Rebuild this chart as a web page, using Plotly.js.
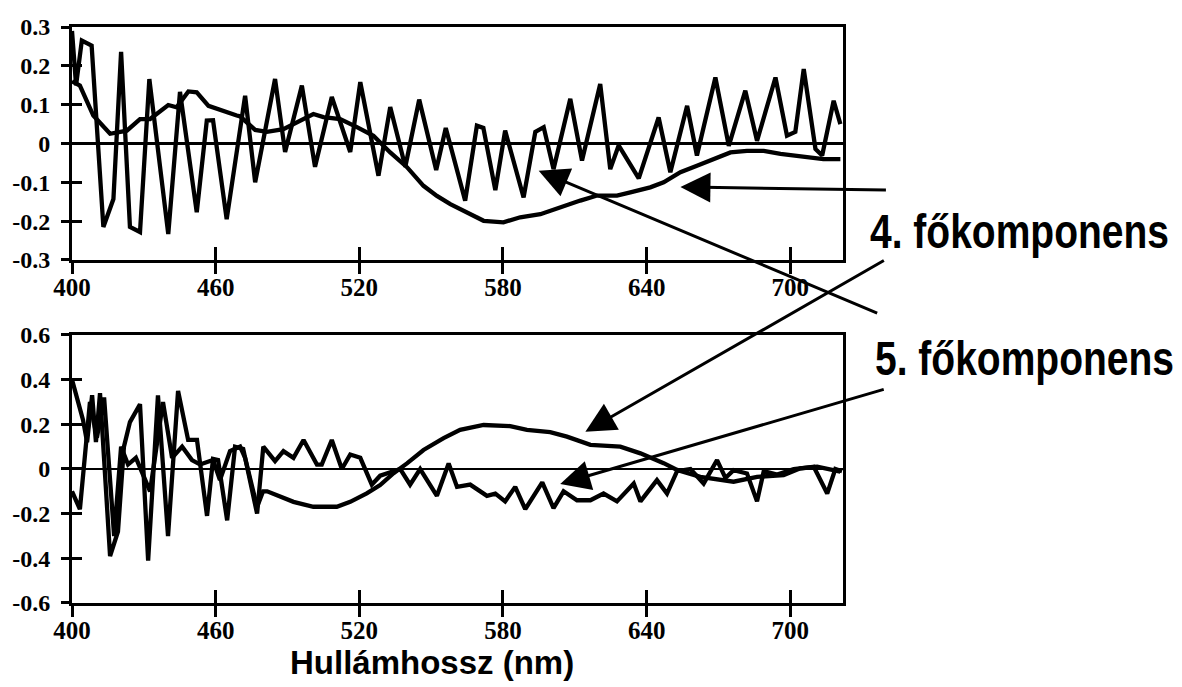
<!DOCTYPE html>
<html>
<head>
<meta charset="utf-8">
<script src="https://cdn.plot.ly/plotly-3.0.1.min.js"></script>
<style>html,body{margin:0;padding:0;background:#fff;}#chart{width:1182px;height:687px;}</style>
</head>
<body>
<div id="chart"></div>
<script>
// ---- Data (wavelength in nm, loading values) ----
// Upper panel, 4th principal component (smooth curve)
var topPC4X = [400,403.3,408.9,415.9,422.9,428.4,432.6,440.2,443.7,448.6,452.1,457.0,468.8,470.2,476.5,481.4,488.3,495.3,500.8,505.0,512.0,519.0,525.9,532.9,539.9,546.8,552.4,558.0,562.1,571.9,580.2,587.2,595.6,603.9,612.3,619.3,627.6,633.2,641.5,647.1,654.1,661.0,668.0,675.0,681.9,688.9,695.9,702.8,709.8,713.8,720.9];
var topPC4Y = [0.16,0.149,0.072,0.025,0.033,0.063,0.063,0.099,0.093,0.134,0.132,0.097,0.072,0.07,0.035,0.03,0.037,0.06,0.076,0.068,0.063,0.042,0.02,-0.023,-0.061,-0.109,-0.135,-0.156,-0.169,-0.199,-0.203,-0.19,-0.182,-0.164,-0.147,-0.134,-0.134,-0.126,-0.113,-0.1,-0.074,-0.057,-0.04,-0.023,-0.019,-0.019,-0.027,-0.031,-0.036,-0.04,-0.04];

// Upper panel, 5th principal component (noisy curve)
var topPC5X = [400,401.7,404.1,408.2,413.1,417.3,420.5,424.2,428.4,432.3,440.2,445.1,452.1,456.3,458.9,464.6,472.3,476.5,484.8,489.0,496.0,501.5,508.5,516.2,520.4,528.0,532.9,539.2,545.0,552.1,556.1,564.2,569.1,571.8,576.8,580.9,588.6,593.5,597.0,601.1,608.1,613.0,620.6,624.8,628.3,636.7,645.0,649.9,656.9,661.0,668.7,674.3,681.2,686.1,693.8,698.6,702.1,705.6,710.5,713.3,718.1,720.9];
var topPC5Y = [0.29,0.15,0.265,0.252,-0.215,-0.143,0.236,-0.215,-0.228,0.166,-0.233,0.133,-0.177,0.059,0.06,-0.195,0.123,-0.1,0.166,-0.022,0.149,-0.06,0.12,-0.022,0.158,-0.083,0.094,-0.06,0.113,-0.068,0.04,-0.147,0.046,0.04,-0.12,0.033,-0.139,0.03,0.042,-0.066,0.115,-0.044,0.153,-0.066,-0.005,-0.09,0.067,-0.074,0.097,-0.031,0.17,-0.006,0.136,0.007,0.17,0.02,0.03,0.192,-0.014,-0.031,0.11,0.05];

// Lower panel, 4th principal component
var botPC4X = [400,403.3,407.5,410.4,413.4,417.6,420.5,423.4,426.7,432.6,438.0,441.8,446.0,450.1,453.5,458.9,461.8,466.0,470.2,472.3,477.3,479.8,481.5,485.5,492.5,500.8,510.6,516.2,523.1,528.7,534.3,539.9,546.8,555.2,562.1,571.9,583.0,590.0,599.7,606.7,616.5,629.0,637.4,647.1,652.7,662.4,676.3,686.1,697.2,704.2,711.2,720.9];
var botPC4Y = [-0.10,-0.18,0.30,0.14,0.32,-0.30,0.10,0.02,0.05,-0.10,0.30,0.05,0.10,0.04,0.02,0.04,-0.05,0.08,0.10,0.05,-0.17,-0.10,-0.10,-0.117,-0.147,-0.169,-0.169,-0.147,-0.109,-0.072,-0.019,0.025,0.085,0.138,0.175,0.197,0.192,0.175,0.165,0.145,0.108,0.10,0.07,0.026,-0.004,-0.035,-0.057,-0.035,-0.027,0.003,0.01,-0.012];

// Lower panel, 5th principal component
var botPC5X = [400,404.6,406.3,408.4,410.0,411.7,415.9,419.2,421.7,424.2,428.4,431.8,435.9,440.1,444.3,448.5,452.2,456.4,458.9,461.0,464.8,468.1,471.5,477.3,479.9,484.8,488.3,492.5,496.7,502.3,504.3,508.5,512.7,516.2,520.4,525.2,528.7,532.9,537.1,541.2,545.4,552.4,557.3,560.8,566.3,573.3,576.8,580.9,585.1,589.3,596.4,601.1,605.3,610.9,616.5,622.0,627.6,634.6,637.4,644.3,648.5,652.7,658.3,663.8,669.4,672.9,676.3,681.9,686.1,688.9,694.5,701.4,709.8,715.4,718.8,721.6];
var botPC5Y = [0.40,0.22,0.12,0.33,0.12,0.34,-0.39,-0.28,0.10,0.21,0.29,-0.41,0.33,-0.30,0.35,0.13,0.13,-0.21,0.045,0.04,-0.23,0.10,0.09,-0.20,0.10,0.035,0.08,0.05,0.13,0.02,0.02,0.13,0.0,0.065,0.05,-0.07,-0.03,-0.015,0.0,-0.07,0.0,-0.12,0.025,-0.08,-0.07,-0.12,-0.11,-0.145,-0.08,-0.18,-0.06,-0.175,-0.10,-0.14,-0.14,-0.11,-0.145,-0.065,-0.145,-0.05,-0.11,-0.01,0.0,-0.065,0.04,-0.04,-0.005,-0.02,-0.145,-0.01,-0.025,0.0,0.01,-0.11,0.0,-0.01];

// Axis ticks and labels
var xTickVals = [400,460,520,580,640,700];
var xTickText = ['400','460','520','580','640','700'];
var topYTickVals = [-0.3,-0.2,-0.1,0,0.1,0.2,0.3];
var topYTickText = ['-0.3','-0.2','-0.1','0','0.1','0.2','0.3'];
var botYTickVals = [-0.6,-0.4,-0.2,0,0.2,0.4,0.6];
var botYTickText = ['-0.6','-0.4','-0.2','0','0.2','0.4','0.6'];

var xTitle = 'Hullámhossz (nm)';
var label4 = '4. főkomponens';
var label5 = '5. főkomponens';

// Arrow targets (data coordinates on each panel)
var arrowTargets = [
  {panel:'top', x:654.1, y:-0.112, ax:207, ay:3},   // 4th PC, upper panel
  {panel:'top', x:594.9, y:-0.070, ax:340, ay:143}, // 5th PC, upper panel
  {panel:'bot', x:614.4, y:0.167, ax:300, ay:-172}, // 4th PC, lower panel
  {panel:'bot', x:603.9, y:-0.067, ax:325, ay:-95}  // 5th PC, lower panel
];

// ---- Build the figure ----
var lineStyle = {color:'#000', width:4.3};
function tr(x, y, xa, ya) {
  return {x:x, y:y, xaxis:xa, yaxis:ya, mode:'lines', type:'scatter', line:lineStyle, hoverinfo:'skip', showlegend:false};
}
var data = [
  tr(topPC4X, topPC4Y, 'x', 'y'),
  tr(topPC5X, topPC5Y, 'x', 'y'),
  tr(botPC4X, botPC4Y, 'x2', 'y2'),
  tr(botPC5X, botPC5Y, 'x2', 'y2'),
  {x:[], y:[], xaxis:'x3', yaxis:'y3', type:'scatter', showlegend:false},
  {x:[], y:[], xaxis:'x4', yaxis:'y4', type:'scatter', showlegend:false}
];

var tickFontX = {family:'Liberation Serif, Times New Roman, serif', size:25, color:'#000', weight:'bold'};
var tickFontY = {family:'Liberation Serif, Times New Roman, serif', size:24, color:'#000', weight:'bold'};
var xRange = [400, 722];

// main axes: inside half of crossing ticks + labels
function mainX(anchor) {
  return {anchor:anchor, range:xRange, tickmode:'array', tickvals:xTickVals, ticktext:xTickText,
    ticks:'inside', ticklen:13, tickwidth:3, tickcolor:'#000', tickfont:tickFontX, ticklabelstandoff:3,
    showline:true, mirror:true, linewidth:3, linecolor:'#000', showgrid:false, zeroline:false, automargin:false};
}
function mainY(domain, range, tv, tt) {
  return {domain:domain, range:range, tickmode:'array', tickvals:tv, ticktext:tt,
    ticks:'inside', ticklen:10, tickwidth:3, tickcolor:'#000', tickfont:tickFontY, ticklabelstandoff:14,
    showline:true, mirror:true, linewidth:3, linecolor:'#000', showgrid:false,
    zeroline:true, zerolinewidth:2.5, zerolinecolor:'#000', automargin:false};
}
// overlay axes: outside half of crossing ticks
function outerX(over, anchor) {
  return {overlaying:over, anchor:anchor, range:xRange, tickmode:'array', tickvals:xTickVals,
    ticks:'outside', ticklen:13, tickwidth:3, tickcolor:'#000', showticklabels:false,
    showline:false, showgrid:false, zeroline:false};
}
function outerY(over, anchor, range, tv) {
  return {overlaying:over, anchor:anchor, range:range, tickmode:'array', tickvals:tv,
    ticks:'outside', ticklen:10, tickwidth:3, tickcolor:'#000', showticklabels:false,
    showline:false, showgrid:false, zeroline:false};
}

var annotations = arrowTargets.map(function(a){
  return {xref: a.panel==='top' ? 'x' : 'x2', yref: a.panel==='top' ? 'y' : 'y2',
    x:a.x, y:a.y, ax:a.ax, ay:a.ay, text:'', showarrow:true,
    arrowhead:2, arrowsize:2, arrowwidth:3, arrowcolor:'#000', standoff:0};
});
var bigFont = {family:'Liberation Sans, Arial, sans-serif', size:39, color:'#000', weight:'bold'};
annotations.push({xref:'paper', yref:'paper', x:1.0324, y:0.645, xanchor:'left', yanchor:'middle',
  text:label4, showarrow:false, font:bigFont});
annotations.push({xref:'paper', yref:'paper', x:1.0389, y:0.425, xanchor:'left', yanchor:'middle',
  text:label5, showarrow:false, font:bigFont});
annotations.push({xref:'paper', yref:'paper', x:0.467, y:-0.104, xanchor:'center', yanchor:'middle',
  text:xTitle, showarrow:false, font:{family:'Liberation Sans, Arial, sans-serif', size:33, color:'#000', weight:'bold'}});

var layout = {
  width:1182, height:687,
  margin:{l:72, r:339, t:27, b:84},
  paper_bgcolor:'#fff', plot_bgcolor:'#fff',
  showlegend:false,
  xaxis: mainX('y'),
  yaxis: mainY([0.5955, 1], [-0.3, 0.3], topYTickVals, topYTickText),
  xaxis2: mainX('y2'),
  yaxis2: mainY([0, 0.4653], [-0.6, 0.6], botYTickVals, botYTickText),
  xaxis3: outerX('x', 'y'),
  yaxis3: outerY('y', 'x', [-0.3, 0.3], topYTickVals),
  xaxis4: outerX('x2', 'y2'),
  yaxis4: outerY('y2', 'x2', [-0.6, 0.6], botYTickVals),
  annotations: annotations
};

Plotly.newPlot('chart', data, layout, {staticPlot:true, displayModeBar:false}).then(function(gd){
  // The reference uses a condensed (tall, narrow) bold sans for the component labels:
  // stretch them vertically about their centre to match its letter height.
  var texts = gd.querySelectorAll('.annotation-text');
  texts.forEach(function(t){
    if (t.textContent === label4 || t.textContent === label5) {
      var bb = t.getBBox();
      var cy = bb.y + bb.height / 2;
      t.setAttribute('transform', 'translate(0,' + cy + ') scale(1,1.22) translate(0,' + (-cy) + ')');
    }
  });
});
</script>
</body>
</html>
